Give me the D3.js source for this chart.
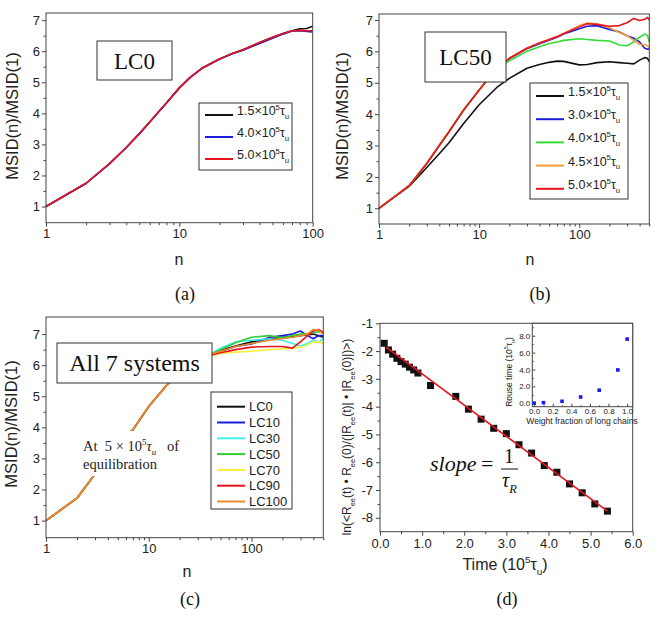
<!DOCTYPE html>
<html>
<head>
<meta charset="utf-8">
<script src="https://cdn.jsdelivr.net/npm/d3@7"></script>
<style>
body { margin: 0; background: #fff; }
text { font-family: "Liberation Sans", Arial, sans-serif; }
.serif { font-family: "Liberation Serif", "Times New Roman", serif; }
</style>
</head>
<body>
<svg width="660" height="619"></svg>
<script>
// ---------- data ----------
// (a) LC0
const nA = [1, 2, 3, 4, 5, 6, 7, 8, 10, 12, 15, 20, 25, 30, 40, 50, 60, 70, 80, 90, 100]
const a15 = [1, 1.75, 2.38, 2.9, 3.34, 3.72, 4.05, 4.33, 4.82, 5.15, 5.47, 5.75, 5.93, 6.05, 6.28, 6.45, 6.57, 6.66, 6.72, 6.73, 6.8]
const a40 = [1, 1.75, 2.38, 2.9, 3.34, 3.72, 4.05, 4.33, 4.82, 5.15, 5.47, 5.74, 5.92, 6.03, 6.25, 6.42, 6.55, 6.65, 6.66, 6.64, 6.62]
const a50 = [1, 1.75, 2.38, 2.9, 3.34, 3.72, 4.05, 4.33, 4.82, 5.15, 5.47, 5.75, 5.93, 6.05, 6.28, 6.45, 6.57, 6.66, 6.67, 6.66, 6.66]
const labelsA = ['1.5', '4.0', '5.0']

// (b) LC50
const nB = [1, 2, 3, 4, 5, 7, 10, 15, 20, 30, 40, 50, 60, 70, 100, 120, 150, 200, 250, 300, 350, 400, 450, 480, 500]
const b15 = [1, 1.7, 2.3, 2.74, 3.09, 3.7, 4.3, 4.85, 5.14, 5.46, 5.58, 5.65, 5.69, 5.68, 5.57, 5.58, 5.64, 5.67, 5.64, 5.62, 5.6, 5.72, 5.8, 5.78, 5.67]
const b30 = [1, 1.72, 2.43, 3.0, 3.44, 4.13, 4.77, 5.46, 5.76, 6.08, 6.24, 6.35, 6.45, 6.55, 6.72, 6.8, 6.82, 6.7, 6.62, 6.5, 6.42, 6.3, 6.1, 6.07, 6.07]
const b40 = [1, 1.72, 2.43, 3.0, 3.44, 4.13, 4.77, 5.44, 5.7, 6.0, 6.15, 6.25, 6.3, 6.35, 6.4, 6.38, 6.35, 6.33, 6.2, 6.18, 6.3, 6.45, 6.55, 6.5, 6.3]
const b45 = [1, 1.72, 2.43, 3.0, 3.44, 4.13, 4.77, 5.46, 5.78, 6.1, 6.27, 6.38, 6.47, 6.57, 6.82, 6.9, 6.88, 6.75, 6.6, 6.5, 6.35, 6.22, 6.22, 6.18, 6.12]
const b50 = [1, 1.72, 2.43, 3.0, 3.44, 4.13, 4.77, 5.46, 5.78, 6.1, 6.27, 6.38, 6.47, 6.57, 6.78, 6.88, 6.86, 6.8, 6.82, 6.91, 7.05, 6.98, 7.02, 7.08, 7.0]
const labelsB = ['1.5', '3.0', '4.0', '4.5', '5.0']

// (c) all 7 systems
const nC = [1, 2, 3, 4, 5, 7, 10, 15, 20, 30, 40, 50, 70, 100, 150, 200, 250, 300, 350, 400, 450, 500]
const lc0 = [1, 1.72, 2.5, 3.05, 3.45, 3.92, 4.67, 5.36, 5.75, 6.15, 6.35, 6.48, 6.62, 6.75, 6.85, 6.9, 6.92, 6.95, 6.98, 7.0, 6.95, 6.9]
const lc10 = [1, 1.72, 2.5, 3.05, 3.45, 3.92, 4.67, 5.36, 5.75, 6.15, 6.35, 6.45, 6.6, 6.68, 6.9, 6.95, 7.0, 7.1, 6.95, 6.85, 6.95, 6.95]
const lc30 = [1, 1.72, 2.5, 3.05, 3.45, 3.92, 4.67, 5.36, 5.75, 6.15, 6.35, 6.55, 6.75, 6.8, 6.85, 6.8, 6.7, 6.62, 6.7, 6.8, 6.75, 6.85]
const lc50 = [1, 1.72, 2.5, 3.05, 3.45, 3.92, 4.67, 5.36, 5.75, 6.15, 6.35, 6.5, 6.72, 6.9, 6.95, 6.88, 6.95, 7.0, 7.02, 7.05, 7.08, 7.05]
const lc70 = [1, 1.72, 2.5, 3.05, 3.45, 3.92, 4.67, 5.36, 5.75, 6.15, 6.3, 6.38, 6.42, 6.45, 6.5, 6.53, 6.55, 6.58, 6.65, 6.75, 6.75, 6.7]
const lc90 = [1, 1.72, 2.5, 3.05, 3.45, 3.92, 4.67, 5.36, 5.75, 6.15, 6.32, 6.4, 6.5, 6.58, 6.6, 6.6, 6.55, 6.75, 6.95, 7.1, 7.15, 7.05]
const lc100 = [1, 1.72, 2.5, 3.05, 3.45, 3.92, 4.67, 5.36, 5.75, 6.15, 6.35, 6.45, 6.6, 6.7, 6.8, 6.85, 6.9, 6.95, 7.0, 7.15, 7.12, 7.0]
const labelsC = ['LC0', 'LC10', 'LC30', 'LC50', 'LC70', 'LC90', 'LC100']

// (d) end-to-end vector autocorrelation
const timeD = [0.1, 0.2, 0.3, 0.4, 0.5, 0.6, 0.7, 0.8, 0.9, 1.2, 1.8, 2.1, 2.4, 2.7, 3.0, 3.3, 3.6, 3.9, 4.2, 4.5, 4.8, 5.1, 5.4]
const lnD = [-1.72, -1.96, -2.11, -2.26, -2.38, -2.47, -2.58, -2.68, -2.79, -3.24, -3.63, -4.09, -4.45, -4.78, -4.97, -5.37, -5.67, -6.12, -6.36, -6.78, -7.1, -7.5, -7.76]
const fitT = [0.15, 5.4]
const fitY = [-1.87, -7.76]

// (d) inset: Rouse time
const fracIn = [0, 0.1, 0.3, 0.5, 0.7, 0.9, 1.0]
const rouseIn = [0.02, 0.08, 0.24, 0.75, 1.55, 3.95, 7.6]

// ---------- helpers ----------
const svg = d3.select('svg')

// text with super/subscript parts: [string, 'n'|'sup'|'sub']
function rich(t, parts, fs) {
  let cur = 0
  parts.forEach(([s, k]) => {
    const off = k === 'sup' ? -0.42 * fs : k === 'sub' ? 0.3 * fs : 0
    const ts = t.append('tspan').attr('dy', off - cur).text(s)
    if (k !== 'n') ts.attr('font-size', fs * 0.62)
    cur = off
  })
  return t
}
const tauParts = v => [[v + '×10', 'n'], ['5', 'sup'], ['τ', 'n'], ['u', 'sub']]

function axes(box, x, y, o) {
  const g = svg.append('g')
  const add = (axis, tr) => g.append('g').attr('transform', tr).call(axis)
  add(d3.axisBottom(x).tickValues(o.xMinor).tickSize(o.minor).tickFormat(''), `translate(0,${box.b})`)
  add(d3.axisBottom(x).tickValues(o.xMajor).tickSize(o.major).tickPadding(o.pad).tickFormat(o.xFmt), `translate(0,${box.b})`)
  add(d3.axisLeft(y).tickValues(o.yMinor).tickSize(o.minor).tickFormat(''), `translate(${box.l},0)`)
  add(d3.axisLeft(y).tickValues(o.yMajor).tickSize(o.major).tickPadding(o.pad).tickFormat(o.yFmt), `translate(${box.l},0)`)
  g.selectAll('.domain').remove()
  g.selectAll('.tick line').attr('stroke', '#444')
  g.selectAll('text').attr('font-size', o.fs).attr('fill', '#222')
  svg.append('rect')
    .attr('x', box.l).attr('y', box.t)
    .attr('width', box.r - box.l).attr('height', box.b - box.t)
    .attr('fill', 'none').attr('stroke', '#444').attr('stroke-width', 1)
}

function yLabel(x, y, txt, fs) {
  return svg.append('text')
    .attr('transform', `translate(${x},${y}) rotate(-90)`)
    .attr('text-anchor', 'middle').attr('dy', '0.35em')
    .attr('font-size', fs).attr('fill', '#222')
    .text(txt)
}

function caption(x, y, txt) {
  svg.append('text').attr('class', 'serif')
    .attr('x', x).attr('y', y).attr('text-anchor', 'middle')
    .attr('font-size', 18).attr('fill', '#111').text(txt)
}

function titleBox(l, t, w, h, txt, fs) {
  svg.append('rect').attr('x', l).attr('y', t).attr('width', w).attr('height', h)
    .attr('fill', '#fff').attr('stroke', '#333')
  svg.append('text').attr('class', 'serif')
    .attr('x', l + w / 2).attr('y', t + h / 2).attr('dy', '0.35em')
    .attr('text-anchor', 'middle').attr('font-size', fs).attr('fill', '#111').text(txt)
}

function legend(l, t, w, h, y0, step, colors, labels, fs, isTau) {
  const g = svg.append('g')
  g.append('rect').attr('x', l).attr('y', t).attr('width', w).attr('height', h)
    .attr('fill', '#fff').attr('stroke', '#333')
  labels.forEach((lab, i) => {
    const yy = y0 + i * step
    g.append('line').attr('x1', l + 6).attr('x2', l + 34).attr('y1', yy).attr('y2', yy)
      .attr('stroke', colors[i]).attr('stroke-width', 2)
    const t = g.append('text').attr('x', l + 38).attr('y', yy).attr('dy', '0.36em')
      .attr('font-size', fs).attr('fill', '#222')
    if (isTau) rich(t, tauParts(lab), fs)
    else t.text(lab)
  })
}

const logMinor = [2, 3, 4, 5, 6, 7, 8, 9, 20, 30, 40, 50, 60, 70, 80, 90, 200, 300, 400, 500]
const msidTicks = [1, 2, 3, 4, 5, 6, 7]
const msidMinor = [1.5, 2.5, 3.5, 4.5, 5.5, 6.5]

function drawSeries(x, y, xs, list, colors) {
  const line = d3.line().x((d, i) => x(xs[i])).y(d => y(d))
  list.forEach((s, i) => {
    svg.append('path').datum(s).attr('d', line)
      .attr('fill', 'none').attr('stroke', colors[i]).attr('stroke-width', 1.6)
      .attr('stroke-linejoin', 'round')
  })
}

// ---------- panel (a) ----------
{
  const box = { l: 46, r: 312.7, t: 13, b: 222.7 }
  const x = d3.scaleLog().domain([1, 100]).range([box.l, box.r])
  const y = d3.scaleLinear().domain([0.48, 7.23]).range([box.b, box.t])
  const colors = ['#111', '#1c1cdc', '#e8141c']
  drawSeries(x, y, nA, [a15, a40, a50], colors)
  axes(box, x, y, {
    xMajor: [1, 10, 100], xMinor: logMinor.filter(v => v < 100), yMajor: msidTicks, yMinor: msidMinor,
    xFmt: d3.format('d'), yFmt: d3.format('d'), major: 4, minor: 2.5, pad: 2, fs: 13
  })
  titleBox(97, 41, 75, 39, 'LC0', 23)
  legend(199, 103, 93, 67, 115, 22, colors, labelsA, 12.5, true)
  yLabel(12, 116, 'MSID(n)/MSID(1)', 16.5)
  svg.append('text').attr('x', 179).attr('y', 265).attr('text-anchor', 'middle')
    .attr('font-size', 16).attr('fill', '#222').text('n')
  caption(185, 300, '(a)')
}

// ---------- panel (b) ----------
{
  const box = { l: 379, r: 649.3, t: 14, b: 224 }
  const x = d3.scaleLog().domain([1, 500]).range([box.l, box.r])
  const y = d3.scaleLinear().domain([0.5, 7.19]).range([box.b, box.t])
  const colors = ['#111', '#1c1cdc', '#33dd33', '#f4a035', '#e8141c']
  drawSeries(x, y, nB, [b15, b30, b40, b45, b50], colors)
  axes(box, x, y, {
    xMajor: [1, 10, 100], xMinor: logMinor, yMajor: msidTicks, yMinor: msidMinor,
    xFmt: d3.format('d'), yFmt: d3.format('d'), major: 4, minor: 2.5, pad: 2, fs: 13
  })
  titleBox(425, 32, 81, 50, 'LC50', 23)
  legend(530, 83, 98, 116, 96, 23.2, colors, labelsB, 12.5, true)
  yLabel(342, 116, 'MSID(n)/MSID(1)', 16.5)
  svg.append('text').attr('x', 530).attr('y', 265).attr('text-anchor', 'middle')
    .attr('font-size', 16).attr('fill', '#222').text('n')
  caption(540, 300, '(b)')
}

// ---------- panel (c) ----------
{
  const box = { l: 46, r: 323.3, t: 317, b: 537.7 }
  const x = d3.scaleLog().domain([1, 500]).range([box.l, box.r])
  const y = d3.scaleLinear().domain([0.45, 7.55]).range([box.b, box.t])
  const colors = ['#111', '#1c1cdc', '#40f0f0', '#33cc33', '#f5f040', '#e8141c', '#ea8a2a']
  drawSeries(x, y, nC, [lc0, lc10, lc30, lc50, lc70, lc90, lc100], colors)
  axes(box, x, y, {
    xMajor: [1, 10, 100], xMinor: logMinor, yMajor: msidTicks, yMinor: msidMinor,
    xFmt: d3.format('d'), yFmt: d3.format('d'), major: 4, minor: 2.5, pad: 2, fs: 13
  })
  titleBox(57, 343, 155, 40, 'All 7 systems', 24)
  legend(211, 392, 81, 117, 406.7, 15.8, colors, labelsC, 13, false)
  // annotation with white backing
  svg.append('rect').attr('x', 80).attr('y', 431).attr('width', 108).attr('height', 45).attr('fill', '#fff')
  const ann = svg.append('text').attr('class', 'serif').attr('x', 83).attr('y', 451)
    .attr('font-size', 14.5).attr('fill', '#222').style('white-space', 'pre')
  rich(ann, [['At  5 × 10', 'n'], ['5', 'sup'], ['τ', 'n'], ['u', 'sub'], ['   of', 'n']], 14.5)
  ann.selectAll('tspan').filter((d, i) => i === 2 || i === 3).attr('font-style', 'italic')
  svg.append('text').attr('class', 'serif').attr('x', 83).attr('y', 469)
    .attr('font-size', 14.5).attr('fill', '#222').text('equilibration')
  yLabel(11, 424, 'MSID(n)/MSID(1)', 16.5)
  svg.append('text').attr('x', 187).attr('y', 577).attr('text-anchor', 'middle')
    .attr('font-size', 16).attr('fill', '#222').text('n')
  caption(190, 605, '(c)')
}

// ---------- panel (d) ----------
{
  const box = { l: 380, r: 632.7, t: 323.3, b: 531.7 }
  const x = d3.scaleLinear().domain([0, 6]).range([box.l, box.r])
  const y = d3.scaleLinear().domain([-8.5, -1]).range([box.b, box.t])
  axes(box, x, y, {
    xMajor: d3.range(0, 6.01, 1), xMinor: d3.range(0.5, 6, 1),
    yMajor: [-1, -2, -3, -4, -5, -6, -7, -8], yMinor: [-1.5, -2.5, -3.5, -4.5, -5.5, -6.5, -7.5],
    xFmt: d3.format('.1f'), yFmt: d => String(d), major: 4, minor: 2.5, pad: 3, fs: 13
  })
  svg.append('g').selectAll('rect').data(timeD).enter().append('rect')
    .attr('x', d => x(d) - 3.5).attr('y', (d, i) => y(lnD[i]) - 3.5)
    .attr('width', 7).attr('height', 7).attr('fill', '#111')
  svg.append('line')
    .attr('x1', x(fitT[0])).attr('y1', y(fitY[0]))
    .attr('x2', x(fitT[1])).attr('y2', y(fitY[1]))
    .attr('stroke', '#e8141c').attr('stroke-width', 1.6)

  // slope formula
  const f = svg.append('g').attr('class', 'serif')
  f.append('text').attr('class', 'serif').attr('x', 430).attr('y', 471)
    .attr('font-size', 22).attr('font-style', 'italic').attr('fill', '#111').text('slope')
  f.append('text').attr('class', 'serif').attr('x', 481).attr('y', 471)
    .attr('font-size', 22).attr('fill', '#111').text('=')
  f.append('text').attr('class', 'serif').attr('x', 509).attr('y', 463).attr('text-anchor', 'middle')
    .attr('font-size', 20).attr('fill', '#111').text('1')
  f.append('line').attr('x1', 501).attr('x2', 518).attr('y1', 469).attr('y2', 469)
    .attr('stroke', '#111').attr('stroke-width', 1)
  const tr = f.append('text').attr('class', 'serif').attr('x', 502).attr('y', 487)
    .attr('font-size', 20).attr('font-style', 'italic').attr('fill', '#111')
  rich(tr, [['τ', 'n'], ['R', 'sub']], 20)

  // y label
  const yl = svg.append('text')
    .attr('transform', `translate(351,437) rotate(-90)`)
    .attr('text-anchor', 'middle').attr('dy', '0.35em')
    .attr('font-size', 12).attr('fill', '#222')
  rich(yl, [['ln(<R', 'n'], ['ee', 'sub'], ['(t) • R', 'n'], ['ee', 'sub'], ['(0)/(|R', 'n'], ['ee', 'sub'],
    ['(t)| • |R', 'n'], ['ee', 'sub'], ['(0)|)>)', 'n']], 12)
  const xl = svg.append('text').attr('x', 505).attr('y', 570).attr('text-anchor', 'middle')
    .attr('font-size', 16).attr('fill', '#222')
  rich(xl, [['Time (10', 'n'], ['5', 'sup'], ['τ', 'n'], ['u', 'sub'], [')', 'n']], 16)
  caption(507, 605, '(d)')

  // inset
  const ib = { l: 532.3, r: 632.7, t: 323.3, b: 406.7 }
  const xi = d3.scaleLinear().domain([-0.02, 1.06]).range([ib.l, ib.r])
  const yi = d3.scaleLinear().domain([-0.4, 9.47]).range([ib.b, ib.t])
  svg.append('rect').attr('x', ib.l).attr('y', ib.t).attr('width', ib.r - ib.l).attr('height', ib.b - ib.t)
    .attr('fill', '#fff')
  axes(ib, xi, yi, {
    xMajor: [0, 0.2, 0.4, 0.6, 0.8, 1.0], xMinor: [0.1, 0.3, 0.5, 0.7, 0.9],
    yMajor: [0, 2, 4, 6, 8], yMinor: [1, 3, 5, 7, 9],
    xFmt: d3.format('.1f'), yFmt: d3.format('.1f'), major: -3, minor: -1.5, pad: 2, fs: 8
  })
  svg.append('g').selectAll('rect').data(fracIn).enter().append('rect')
    .attr('x', d => xi(d) - 1.8).attr('y', (d, i) => yi(rouseIn[i]) - 1.8)
    .attr('width', 3.6).attr('height', 3.6).attr('fill', '#1a1aee')
  const iy = svg.append('text')
    .attr('transform', `translate(512,372) rotate(-90)`)
    .attr('text-anchor', 'middle').attr('dy', '0.35em')
    .attr('font-size', 8.5).attr('fill', '#222')
  rich(iy, [['Rouse time (10', 'n'], ['5', 'sup'], ['τ', 'n'], ['u', 'sub'], [')', 'n']], 8.5)
  svg.append('text').attr('x', 582).attr('y', 421).attr('dy', '0.35em').attr('text-anchor', 'middle')
    .attr('font-size', 8.5).attr('fill', '#222').text('Weight fraction of long chains')
}
</script>
</body>
</html>
